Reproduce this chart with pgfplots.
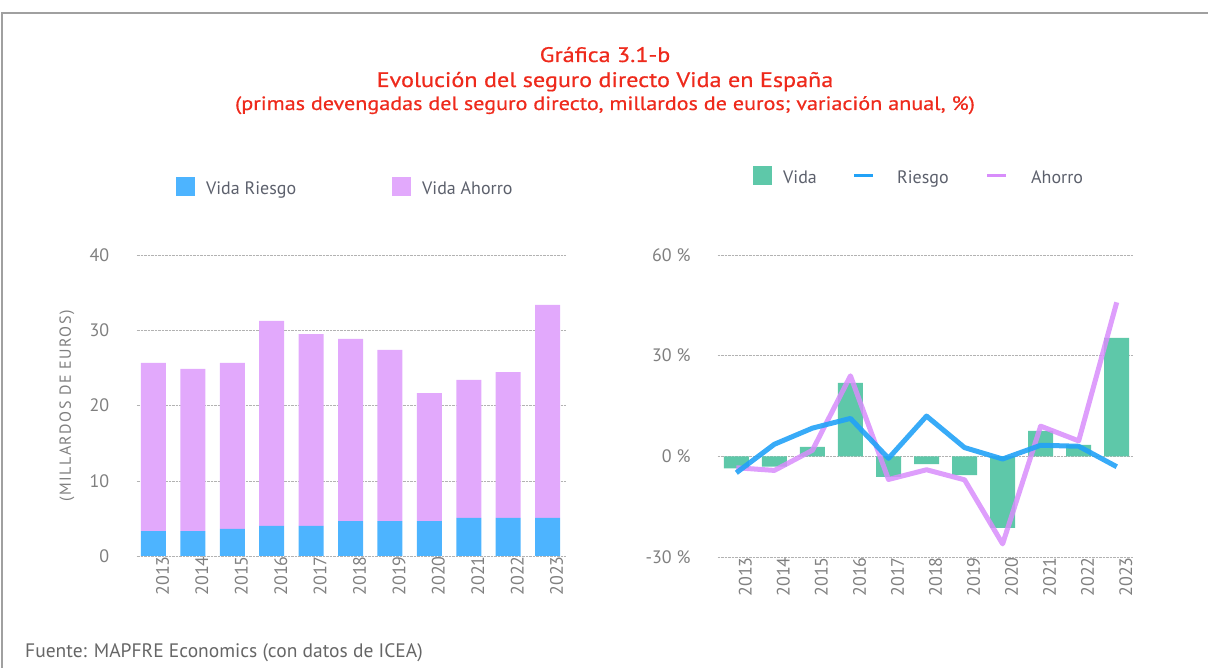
\documentclass[border=0pt]{standalone}
\usepackage{fontspec}
\setmainfont{PT Sans}
\newfontfamily\spaced[LetterSpace=9]{PT Sans}
\newfontfamily\titlefont[FakeStretch=1.15, FakeBold=0.6]{PT Sans}
\usepackage{pgfplots}
\usepackage{pgfplotstable}
\pgfplotsset{compat=1.18}

\definecolor{riesgo}{HTML}{4DB4FF}
\definecolor{ahorro}{HTML}{E2A9FC}
\definecolor{vida}{HTML}{5EC8A9}
\definecolor{riesgoline}{HTML}{22A2F7}
\definecolor{ahorroline}{HTML}{D88DFB}
\definecolor{titulo}{HTML}{EE2A1C}
\definecolor{ticks}{HTML}{7F7F7F}
\definecolor{leyenda}{HTML}{5C606C}
\definecolor{marco}{HTML}{A0A0A0}

% primas, millardos de euros
\pgfplotstableread{
x year riesgo ahorro
0  2013 3.32 22.33
1  2014 3.32 21.53
2  2015 3.59 22.06
3  2016 3.99 27.24
4  2017 3.99 25.51
5  2018 4.65 24.19
6  2019 4.65 22.73
7  2020 4.65 17.01
8  2021 5.05 18.34
9  2022 5.05 19.40
10 2023 5.05 28.31
}\primas

% variacion anual, %
\pgfplotstableread{
x year vida riesgo ahorro
0  2013 -3.6  -4.9  -3.4
1  2014 -3.1   3.6  -4.2
2  2015  2.8   8.4   1.8
3  2016 21.9  11.3  24.0
4  2017 -6.1  -0.6  -6.9
5  2018 -2.3  12.0  -4.0
6  2019 -5.6   2.6  -7.0
7  2020 -21.3 -0.8 -26.1
8  2021  7.6   3.3   9.0
9  2022  3.4   3.0   4.6
10 2023 35.3  -3.1  45.9
}\variacion

\pgfplotsset{
  panel/.style={
    scale only axis,
    axis line style={draw=none},
    major tick length=0pt,
    ymajorgrids,
    grid style={densely dotted, black!30},
    xtick={0,...,10},
    xticklabels={2013,2014,2015,2016,2017,2018,2019,2020,2021,2022,2023},
    xticklabel style={rotate=90, anchor=east, inner sep=0pt, yshift=-9pt},
    yticklabel style={anchor=east, inner sep=0pt, xshift=-27pt},
    tick label style={font=\fontsize{18}{18}\selectfont, text=ticks},
    /pgf/number format/assume math mode=true,
    clip=false,
  },
}

\begin{document}
\begin{tikzpicture}[x=1pt,y=1pt]
\path[use as bounding box] (0,0) rectangle (1208,668);
\draw[marco, line width=1.5pt] (2,0) -- (2,655) -- (1208,655);

% titles
\node[anchor=base, text=titulo, font=\titlefont\fontsize{21}{21}\selectfont] at (605,606) {Gráfica 3.1-b};
\node[anchor=base, text=titulo, font=\titlefont\fontsize{21}{21}\selectfont] at (605,581) {Evolución del seguro directo Vida en España};
\node[anchor=base, text=titulo, font=\titlefont\fontsize{19.25}{19.25}\selectfont] at (605,558) {(primas devengadas del seguro directo, millardos de euros; variación anual, \%)};

% left legend
\fill[riesgo] (176,472) rectangle (195,491);
\node[anchor=base west, inner sep=0pt, text=leyenda, font=\fontsize{18}{18}\selectfont] at (206,473) {Vida Riesgo};
\fill[ahorro] (392,472) rectangle (411,491);
\node[anchor=base west, inner sep=0pt, text=leyenda, font=\fontsize{18}{18}\selectfont] at (422,473) {Vida Ahorro};

% right legend
\fill[vida] (753,483) rectangle (772,502);
\node[anchor=base west, inner sep=0pt, text=leyenda, font=\fontsize{18}{18}\selectfont] at (783,484) {Vida};
\fill[riesgoline] (854,490.5) rectangle (873,493.5);
\node[anchor=base west, inner sep=0pt, text=leyenda, font=\fontsize{18}{18}\selectfont] at (897,484) {Riesgo};
\fill[ahorroline] (987,490.5) rectangle (1006,493.5);
\node[anchor=base west, inner sep=0pt, text=leyenda, font=\fontsize{18}{18}\selectfont] at (1031,484) {Ahorro};

% left panel
\begin{axis}[panel,
  at={(136.5pt,112pt)}, anchor=south west,
  width=428.5pt, height=301pt,
  xmin=-0.43, xmax=10.44,
  ymin=0, ymax=40, ytick={0,10,20,30,40},
  ybar stacked, bar width=25pt,
]
\addplot[fill=riesgo, draw=none] table[x=x, y=riesgo] {\primas};
\addplot[fill=ahorro, draw=none] table[x=x, y=ahorro] {\primas};
\end{axis}
\node[rotate=90, text=ticks, font=\spaced\fontsize{16}{16}\selectfont] at (67,262) {(MILLARDOS DE EUROS)};

% right panel
\begin{axis}[panel,
  at={(717.7pt,111pt)}, anchor=south west,
  width=415pt, height=302pt,
  xmin=-0.49, xmax=10.42,
  ymin=-30, ymax=60, ytick={-30,0,30,60},
  yticklabel={\pgfmathprintnumber{\tick}~\%},
]
\addplot[ybar, bar width=25pt, fill=vida, draw=none] table[x=x, y=vida] {\variacion};
\addplot[ahorroline, line width=5pt, opacity=0.85, line join=round] table[x=x, y=ahorro] {\variacion};
\addplot[riesgoline, line width=5pt, opacity=0.9, line join=round] table[x=x, y=riesgo] {\variacion};
\end{axis}

% source
\node[anchor=base west, inner sep=0pt, text=black!60, font=\fontsize{19.5}{19.5}\selectfont] at (25,10) {Fuente: MAPFRE Economics (con datos de ICEA)};
\end{tikzpicture}
\end{document}
